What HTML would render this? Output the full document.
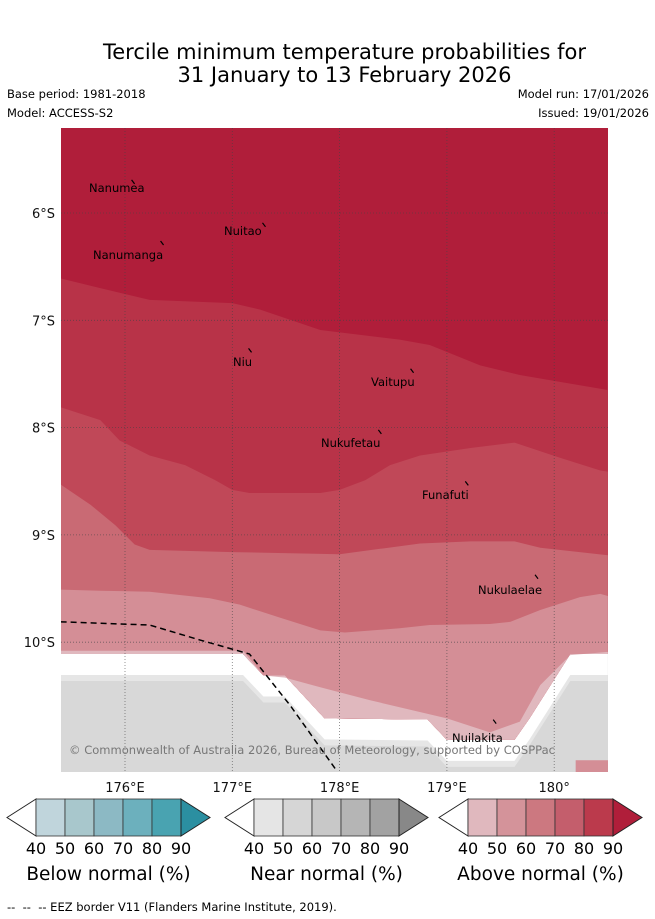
<!DOCTYPE html>
<html><head><meta charset="utf-8"><style>
body{margin:0;background:#fff;width:655px;height:919px;position:relative;font-family:"DejaVu Sans","Liberation Sans",sans-serif;overflow:hidden}
.t{position:absolute;white-space:nowrap}
svg text{font-family:"DejaVu Sans","Liberation Sans",sans-serif}
</style></head><body>
<div class="t" style="left:0;width:689px;text-align:center;top:41px;font-size:21px;line-height:23px">Tercile minimum temperature probabilities for<br>31 January to 13 February 2026</div>
<div class="t" style="left:7px;top:87px;font-size:11.5px">Base period: 1981-2018</div>
<div class="t" style="left:7px;top:106px;font-size:11.5px">Model: ACCESS-S2</div>
<div class="t" style="right:6px;top:87px;font-size:11.5px">Model run: 17/01/2026</div>
<div class="t" style="right:6px;top:106px;font-size:11.5px">Issued: 19/01/2026</div>
<svg id="map" width="655" height="919" style="position:absolute;left:0;top:0" xmlns="http://www.w3.org/2000/svg"></svg>
<div class="t" style="left:7px;top:900px;font-size:11.5px">-- &nbsp;-- &nbsp;-- EEZ border V11 (Flanders Marine Institute, 2019).</div>
<script>
const lonTicks=[176,177,178,179,180];
const lonLabels=["176°E","177°E","178°E","179°E","180°"];
const latTicks=[6,7,8,9,10];
const latLabels=["6°S","7°S","8°S","9°S","10°S"];
const bound80_90=[[175.40,6.61],[175.77,6.70],[176.23,6.81],[177.00,6.84],[177.26,6.90],[177.82,7.09],[178.56,7.18],[178.84,7.23],[179.31,7.42],[179.68,7.51],[180.50,7.65]];
const bound70_80=[[175.40,7.81],[175.77,7.93],[175.95,8.12],[176.23,8.26],[176.56,8.35],[176.84,8.49],[177.00,8.58],[177.16,8.61],[177.82,8.61],[178.00,8.58],[178.24,8.49],[178.47,8.35],[178.75,8.26],[179.22,8.19],[179.63,8.14],[180.05,8.28],[180.43,8.40],[180.50,8.41]];
const bound60_70=[[175.40,8.53],[175.68,8.72],[175.91,8.91],[176.09,9.09],[176.23,9.14],[177.00,9.16],[178.00,9.18],[178.75,9.08],[179.22,9.06],[179.63,9.06],[179.87,9.12],[180.50,9.19]];
const bound50_60=[[175.40,9.51],[175.77,9.52],[176.23,9.53],[176.79,9.59],[177.07,9.65],[177.44,9.77],[177.82,9.89],[178.05,9.91],[178.56,9.87],[178.84,9.84],[179.40,9.83],[179.59,9.81],[179.87,9.70],[180.24,9.58],[180.43,9.55],[180.50,9.57]];
const bound40_50=[[175.40,10.08],[177.10,10.08],[177.29,10.31],[177.49,10.33],[177.82,10.42],[178.28,10.54],[179.00,10.71],[179.40,10.84],[179.68,10.74],[179.87,10.40],[180.15,10.12],[180.50,10.09]];
const dataEdge=[[175.40,10.11],[177.10,10.11],[177.29,10.31],[177.49,10.31],[177.86,10.71],[178.82,10.72],[179.00,10.91],[179.63,10.91],[179.77,10.71],[180.15,10.11],[180.50,10.11]];
const eez=[[175.40,9.81],[176.23,9.84],[176.70,9.98],[177.16,10.11],[177.54,10.59],[177.96,11.18]];
const islands=[["Nanumea",176.08,5.71,89,188],["Nuitao",177.30,6.11,224,231],["Nanumanga",176.35,6.28,93,255],["Niu",177.17,7.28,233,362],["Vaitupu",178.68,7.47,371,382],["Nukufetau",178.38,8.04,321,443],["Funafuti",179.19,8.52,422,495],["Nukulaelae",179.84,9.39,478,590],["Nuilakita",179.45,10.74,452,738]];
const x=lon=>125+(lon-176)*107.3, y=lat=>213+(lat-6)*107.3;
const L=61,R=608,T=128,B=772;
const svg=document.getElementById('map');const NS='http://www.w3.org/2000/svg';
function add(tag,attrs,parent){const e=document.createElementNS(NS,tag);for(const k in attrs)e.setAttribute(k,attrs[k]);(parent||svg).appendChild(e);return e;}
const defs=add('defs',{});const cp=add('clipPath',{id:'c'},defs);add('rect',{x:L,y:T,width:R-L,height:B-T},cp);
const g=add('g',{'clip-path':'url(#c)'});
function pts(a,dy=0){return a.map(p=>x(p[0])+','+(y(p[1])+dy)).join(' ');}
let e=add('rect',{x:L,y:T,width:R-L,height:B-T,fill:'#d8d8d8'},g);

e=add('polygon',{points:L+','+T+' '+R+','+T+' '+pts(dataEdge.slice().reverse(),27),fill:'#e6e6e6'},g);

e=add('polygon',{points:L+','+T+' '+R+','+T+' '+pts(dataEdge.slice().reverse(),21),fill:'#ffffff'},g);

e=add('polygon',{points:L+','+T+' '+R+','+T+' '+pts(dataEdge.slice().reverse()),fill:'#b01e3a'},g);

const bands=[[bound80_90,'#b83348','band-80-90'],[bound70_80,'#c04858','band-70-80'],[bound60_70,'#c96a74','band-60-70'],[bound50_60,'#d48e96','band-50-60'],[bound40_50,'#e0b8be','band-40-50']];
bands.forEach(b=>{const p=add('polygon',{points:pts(b[0])+' '+pts(dataEdge.slice().reverse()),fill:b[1]},g);

});
e=add('rect',{x:x(180.2),y:y(11.1),width:40,height:20,fill:'#d48e96'},g);

lonTicks.forEach((v,i)=>{const l=add('line',{x1:x(v),x2:x(v),y1:T,y2:B,stroke:'#444','stroke-width':0.8,'stroke-dasharray':'1,2',opacity:0.7},g);

const t=add('text',{x:x(v),y:792,'text-anchor':'middle','font-size':13,fill:'#111'});t.textContent=lonLabels[i];
});
latTicks.forEach((v,i)=>{const l=add('line',{x1:L,x2:R,y1:y(v),y2:y(v),stroke:'#444','stroke-width':0.8,'stroke-dasharray':'1,2',opacity:0.7},g);

const t=add('text',{x:55,y:y(v)+5,'text-anchor':'end','font-size':13,fill:'#111'});t.textContent=latLabels[i];
});
e=add('polyline',{points:pts(eez),fill:'none',stroke:'#000','stroke-width':1.5,'stroke-dasharray':'6,4'},g);

islands.forEach(s=>{const m=add('line',{x1:x(s[1])-2,y1:y(s[2])-2,x2:x(s[1])+1,y2:y(s[2])+2,stroke:'#000','stroke-width':1.2},g);

const t=add('text',{x:s[3],y:s[4]+4,'font-size':11.5,fill:'#000'});t.textContent=s[0];
});
e=add('text',{x:69,y:754,'font-size':11.5,fill:'#777',textLength:486},g);e.textContent='© Commonwealth of Australia 2026, Bureau of Meteorology, supported by COSPPac';

const cbTicks=["40","50","60","70","80","90"];
const cbBars=[[7,'Below normal (%)',['#c0d5dc','#a8c7cc','#8cb9c4','#6cb0bd','#49a3b1','#2b8fa1']],[225,'Near normal (%)',['#e5e5e5','#d6d6d6','#c8c8c8','#b5b5b5','#a2a2a2','#888888']],[439,'Above normal (%)',['#e0b8be','#d4939a','#cc7880','#c45e6c','#bb3a4c','#b01e3a']]];
cbBars.forEach(c=>{const x0=c[0],yt=799,yb=836,w=29,bw=29;
let p=add('polygon',{points:`${x0},${(yt+yb)/2} ${x0+w},${yt} ${x0+w},${yb}`,fill:'#fff',stroke:'#222','stroke-width':1});

for(let i=0;i<5;i++){const r=add('rect',{x:x0+w+i*bw,y:yt,width:bw,height:yb-yt,fill:c[2][i],stroke:'#333','stroke-width':0.8});
}
const xe=x0+w+5*bw;
p=add('polygon',{points:`${xe},${yt} ${xe+w},${(yt+yb)/2} ${xe},${yb}`,fill:c[2][5],stroke:'#222','stroke-width':1});

cbTicks.forEach((t,i)=>{const tx=add('text',{x:x0+w+i*bw,y:854,'text-anchor':'middle','font-size':16,fill:'#000'});tx.textContent=t;
});
const tl=add('text',{x:x0+w+2.5*bw,y:880,'text-anchor':'middle','font-size':18.5,fill:'#000'});tl.textContent=c[1];
});
</script>
</body></html>
